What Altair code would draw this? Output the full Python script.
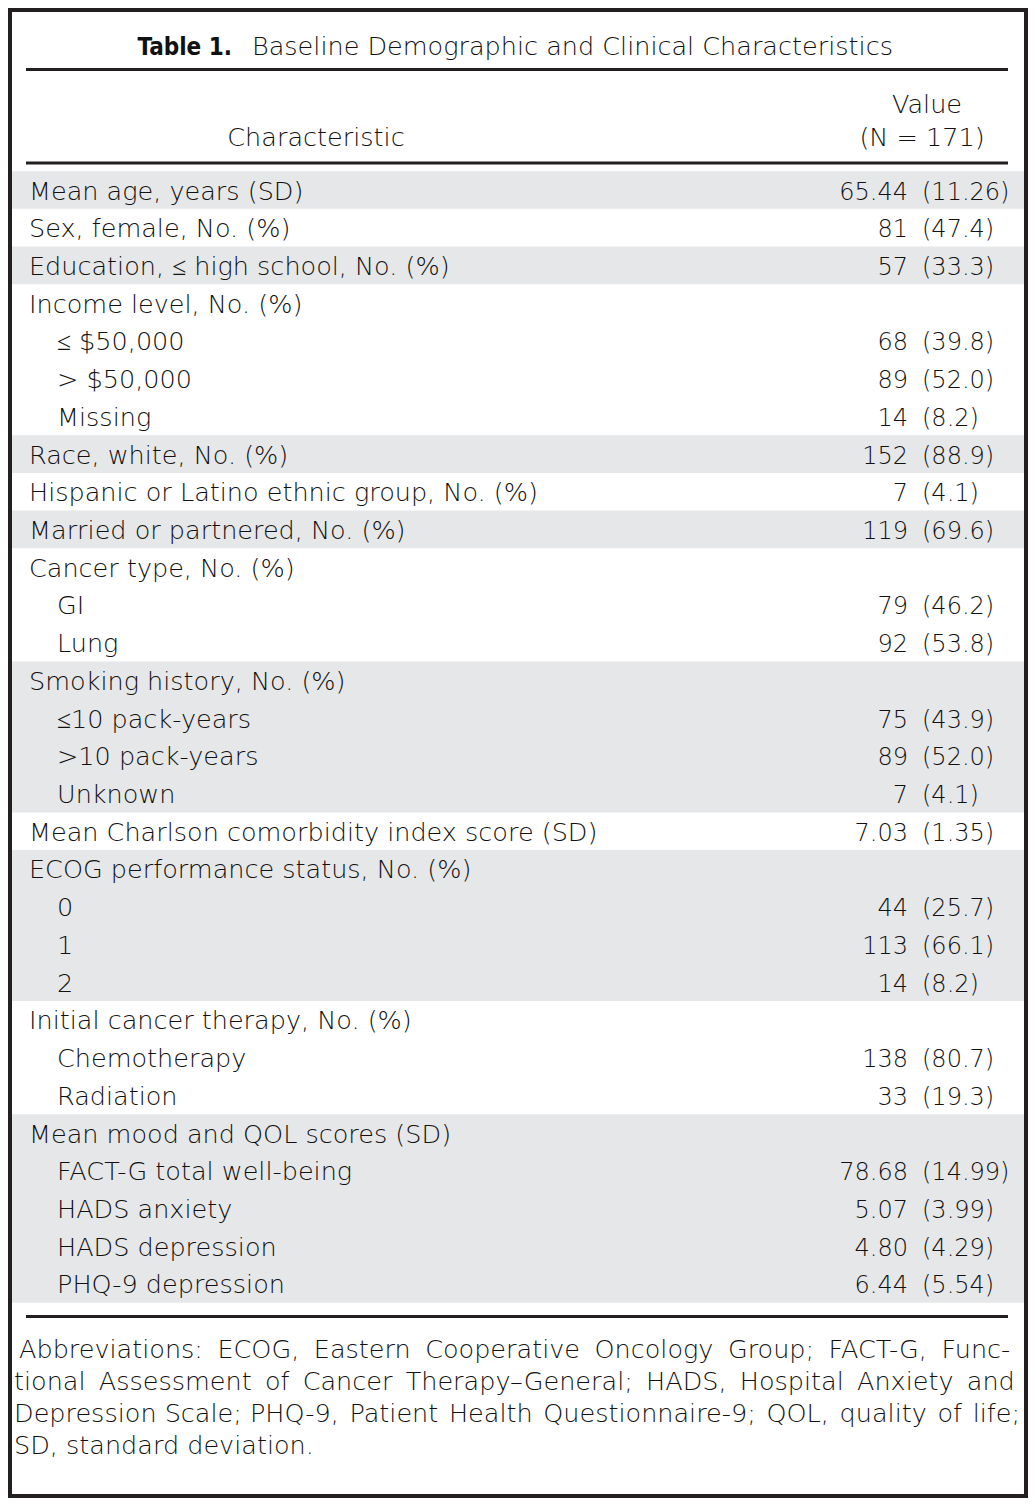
import altair as alt
import pandas as pd

# ---------------- data ----------------
title_bold = "Table 1."
title_text = "Baseline Demographic and Clinical Characteristics"
col_head_left = "Characteristic"
col_head_right = ["Value", "(N = 171)"]

labels = [
    "Mean age, years (SD)",
    "Sex, female, No. (%)",
    "Education, \u2264 high school, No. (%)",
    "Income level, No. (%)",
    "\u2264 $50,000",
    "> $50,000",
    "Missing",
    "Race, white, No. (%)",
    "Hispanic or Latino ethnic group, No. (%)",
    "Married or partnered, No. (%)",
    "Cancer type, No. (%)",
    "GI",
    "Lung",
    "Smoking history, No. (%)",
    "\u226410 pack-years",
    ">10 pack-years",
    "Unknown",
    "Mean Charlson comorbidity index score (SD)",
    "ECOG performance status, No. (%)",
    "0",
    "1",
    "2",
    "Initial cancer therapy, No. (%)",
    "Chemotherapy",
    "Radiation",
    "Mean mood and QOL scores (SD)",
    "FACT-G total well-being",
    "HADS anxiety",
    "HADS depression",
    "PHQ-9 depression",
]
indent = [0, 0, 0, 0, 1, 1, 1, 0, 0, 0, 0, 1, 1, 0, 1, 1, 1, 0, 0, 1, 1, 1, 0, 1, 1, 0, 1, 1, 1, 1]
numbers = ["65.44", "81", "57", "", "68", "89", "14", "152", "7", "119", "", "79", "92",
           "", "75", "89", "7", "7.03", "", "44", "113", "14", "", "138", "33",
           "", "78.68", "5.07", "4.80", "6.44"]
parens = ["(11.26)", "(47.4)", "(33.3)", "", "(39.8)", "(52.0)", "(8.2)", "(88.9)", "(4.1)", "(69.6)", "",
          "(46.2)", "(53.8)", "", "(43.9)", "(52.0)", "(4.1)", "(1.35)", "", "(25.7)", "(66.1)", "(8.2)",
          "", "(80.7)", "(19.3)", "", "(14.99)", "(3.99)", "(4.29)", "(5.54)"]
group = [0, 1, 2, 3, 3, 3, 3, 4, 5, 6, 7, 7, 7, 8, 8, 8, 8, 9, 10, 10, 10, 10, 11, 11, 11, 12, 12, 12, 12, 12]

footnote = [
    "Abbreviations: ECOG, Eastern Cooperative Oncology Group; FACT-G, Func-",
    "tional Assessment of Cancer Therapy\u2013General; HADS, Hospital Anxiety and",
    "Depression Scale; PHQ-9, Patient Health Questionnaire-9; QOL, quality of life;",
    "SD, standard deviation.",
]


def widen(line, extra, skip=0):
    """Approximate justified setting: add a fixed-width space after word gaps."""
    parts = line.split(" ")
    out = parts[0]
    for k, p in enumerate(parts[1:]):
        out += " " + (extra if k >= skip else "") + p
    return out


foot_lines = [
    widen(footnote[0], "\u2005"),
    widen(footnote[1], "\u2009"),
    widen(footnote[2], "\u200a", skip=2),
    footnote[3],
]

# ---------------- styling ----------------
FONT = "DejaVu Sans"
FW = 300
FS = 25.5
VFS = 24
INK = "#111111"
RULE = "#231f20"
SHADE = "#e6e7e8"

n = len(labels)
rows = pd.DataFrame({
    "row": list(range(n)),
    "label": labels,
    "indent": indent,
    "num": numbers,
    "paren": parens,
    "group": group,
})
rows["lo"] = rows["row"] - 0.5
rows["hi"] = rows["row"] + 0.5
rows["shade"] = (rows["group"] % 2 == 0).astype(int)
rows["lx"] = 21 + 28 * rows["indent"]

ROW_H = 37.72
yscale = alt.Scale(domain=[0, n - 1], range=[182, 182 + (n - 1) * ROW_H], nice=False, zero=False)

base = alt.Chart(rows)

shading = base.transform_filter("datum.shade == 1").transform_aggregate(
    lo="min(lo)", hi="max(hi)", groupby=["group"]
).mark_rect(color=SHADE).encode(
    y=alt.Y("lo:Q", scale=yscale, axis=None),
    y2="hi:Q",
    x=alt.value(4),
    x2=alt.value(1016),
)

txt = dict(font=FONT, fontWeight=FW, color=INK, baseline="alphabetic", dy=9.5)

label_layer = base.mark_text(align="left", fontSize=FS, **txt).encode(
    x=alt.X("lx:Q", scale=None),
    y=alt.Y("row:Q", scale=yscale, axis=None),
    text="label:N",
)
num_layer = base.mark_text(align="right", fontSize=VFS, **txt).encode(
    x=alt.value(900),
    y=alt.Y("row:Q", scale=yscale, axis=None),
    text="num:N",
)
paren_layer = base.mark_text(align="left", fontSize=VFS, **txt).encode(
    x=alt.value(914),
    y=alt.Y("row:Q", scale=yscale, axis=None),
    text="paren:N",
)

one = pd.DataFrame({"a": [0]})


def fixed_text(s, x, y, align="left", **kw):
    opts = dict(font=FONT, fontWeight=FW, fontSize=FS, color=INK, baseline="alphabetic")
    opts.update(kw)
    return alt.Chart(pd.DataFrame({"t": [s]})).mark_text(align=align, **opts).encode(
        x=alt.value(x), y=alt.value(y), text="t:N")


title1 = fixed_text(title_bold, 224, 47, align="right", font="DejaVu Sans Condensed", fontWeight="bold", fontSize=24)
title2 = fixed_text(title_text, 244, 47)
head_left = fixed_text(col_head_left, 308, 138, align="center")
head_r1 = fixed_text(col_head_right[0], 919, 105, align="center")
head_r2 = fixed_text(col_head_right[1], 914, 138, align="center")

rule_ys = [61.5, 155, 1308.5]
rules = alt.Chart(pd.DataFrame({"y": rule_ys})).mark_rule(color=RULE, strokeWidth=3.2).encode(
    y=alt.Y("y:Q", scale=None), x=alt.value(18), x2=alt.value(1000))

foot_df = pd.DataFrame({"t": foot_lines, "fy": [1350, 1382, 1414, 1446], "fx": [11, 6, 6, 6]})
foot = alt.Chart(foot_df).mark_text(align="left", font=FONT, fontWeight=FW, fontSize=FS, color=INK,
                                    baseline="alphabetic").encode(
    x=alt.X("fx:Q", scale=None), y=alt.Y("fy:Q", scale=None), text="t:N")

frame = alt.Chart(one).mark_rect(fill=None, stroke=RULE, strokeWidth=4, filled=False).encode(
    x=alt.value(2), x2=alt.value(1018), y=alt.value(2), y2=alt.value(1488))

chart = alt.layer(
    shading, rules, label_layer, num_layer, paren_layer,
    title1, title2, head_left, head_r1, head_r2, foot, frame,
).properties(width=1020, height=1490, padding=0, autosize="none").configure_view(stroke=None)

chart.save("out.html", embed_options={"renderer": "svg", "actions": False})
